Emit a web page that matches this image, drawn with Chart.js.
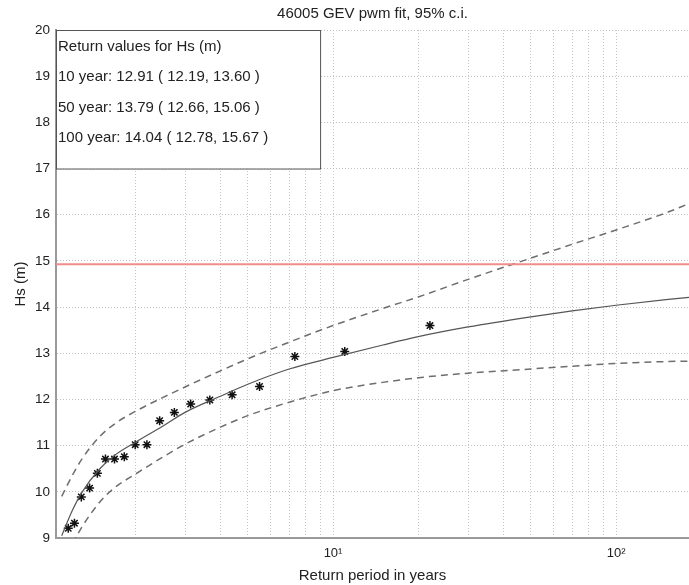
<!DOCTYPE html>
<html>
<head>
<meta charset="utf-8">
<script src="https://cdn.jsdelivr.net/npm/chart.js@4.4.1/dist/chart.umd.min.js"></script>
<style>
  body { margin: 0; background: #fff; overflow: hidden; }
  #wrap { width: 695px; height: 585px; position: relative; }
  canvas { display: block; }
</style>
</head>
<body>
<div id="wrap"><canvas id="gevChart"></canvas></div>
<script>
// return periods (years) used for the fitted curve and its confidence band
const periods = [1.1, 1.2, 1.3, 1.5, 1.7, 2, 2.5, 3, 4, 5, 7, 10, 15, 20, 30, 50, 70, 100, 150, 181];
const fitHs   = [9.05, 9.6, 10.0, 10.5, 10.8, 11.07, 11.42, 11.72, 12.07, 12.33, 12.66, 12.91, 13.18, 13.36, 13.57, 13.79, 13.92, 14.04, 14.16, 14.21];
const upperHs = [9.9, 10.36, 10.72, 11.2, 11.48, 11.74, 12.04, 12.27, 12.62, 12.88, 13.24, 13.6, 13.97, 14.22, 14.6, 15.06, 15.36, 15.67, 16.04, 16.24];
const lowerHs = [null, 8.88, 9.25, 9.78, 10.1, 10.38, 10.75, 11.03, 11.4, 11.65, 11.94, 12.19, 12.37, 12.47, 12.57, 12.66, 12.72, 12.78, 12.82, 12.83];

// observed annual maxima at their plotting positions
const obsPeriods = [22, 11, 7.33, 5.5, 4.4, 3.67, 3.14, 2.75, 2.44, 2.2, 2.0, 1.83, 1.69, 1.57, 1.47, 1.38, 1.29, 1.22, 1.16];
const obsHs      = [13.6, 13.04, 12.93, 12.28, 12.1, 11.99, 11.9, 11.72, 11.54, 11.02, 11.02, 10.76, 10.71, 10.71, 10.4, 10.08, 9.89, 9.32, 9.21];

const thresholdHs = 14.93;

const xGridValues = [2, 3, 4, 5, 6, 7, 8, 9, 10, 20, 30, 40, 50, 60, 70, 80, 90, 100];
const xTickLabels = { 10: '10\u00B9', 100: '10\u00B2' };
const xMin = 1.05, xMax = 181;

const chartTitle = '46005 GEV pwm fit, 95% c.i.';
const boxLines = [
  'Return values for Hs (m)',
  '10 year: 12.91 ( 12.19, 13.60 )',
  '50 year: 13.79 ( 12.66, 15.06 )',
  '100 year: 14.04 ( 12.78, 15.67 )'
];

const FONT = "'Liberation Sans', Arial, sans-serif";

const toPts = (xs, ys) => xs.map((x, i) => ({ x: x, y: ys[i] }));

// title centred over the plot area, not the canvas
const titlePlugin = {
  id: 'plotTitle',
  afterDraw(chart) {
    const { ctx, chartArea } = chart;
    ctx.save();
    ctx.font = '15px ' + FONT;
    ctx.fillStyle = '#222';
    ctx.textAlign = 'center';
    ctx.textBaseline = 'middle';
    ctx.fillText(chartTitle, (chartArea.left + chartArea.right) / 2, 14);
    ctx.restore();
  }
};

// white text box in the top-left corner, anchored to data coords
const boxPlugin = {
  id: 'returnBox',
  beforeDatasetsDraw(chart) {
    const { ctx, scales } = chart;
    const x0 = scales.x.left;
    const x1 = scales.x.getPixelForValue(9);
    const y0 = scales.y.getPixelForValue(20);
    const y1 = scales.y.getPixelForValue(17);
    ctx.save();
    ctx.fillStyle = '#fff';
    ctx.fillRect(x0, y0, x1 - x0, y1 - y0);
    ctx.strokeStyle = '#555';
    ctx.lineWidth = 1;
    ctx.strokeRect(x0 + 0.5, y0 + 0.5, x1 - x0, y1 - y0);
    ctx.font = '15px ' + FONT;
    ctx.fillStyle = '#222';
    ctx.textBaseline = 'middle';
    boxLines.forEach((t, i) => ctx.fillText(t, x0 + 2, y0 + 17 + i * 30.3));
    ctx.restore();
  }
};

const curve = {
  showLine: true,
  pointRadius: 0,
  cubicInterpolationMode: 'monotone'
};

new Chart(document.getElementById('gevChart'), {
  type: 'scatter',
  data: {
    datasets: [
      {
        label: 'threshold',
        data: [{ x: xMin, y: thresholdHs }, { x: xMax, y: thresholdHs }],
        showLine: true,
        borderColor: '#f08c8c',
        borderWidth: 2,
        pointRadius: 0
      },
      Object.assign({
        label: 'upper',
        data: toPts(periods, upperHs),
        borderColor: '#6e6e6e',
        borderWidth: 1.5,
        borderDash: [7, 5]
      }, curve),
      Object.assign({
        label: 'lower',
        data: toPts(periods, lowerHs),
        borderColor: '#6e6e6e',
        borderWidth: 1.5,
        borderDash: [7, 5]
      }, curve),
      Object.assign({
        label: 'fit',
        data: toPts(periods, fitHs),
        borderColor: '#555',
        borderWidth: 1.2
      }, curve),
      {
        label: 'observed',
        data: toPts(obsPeriods, obsHs),
        pointStyle: 'star',
        pointRadius: 4.5,
        borderColor: '#111',
        borderWidth: 1.5,
        backgroundColor: '#111'
      }
    ]
  },
  options: {
    responsive: true,
    maintainAspectRatio: false,
    animation: false,
    layout: { padding: { top: 30, right: 0, left: 0, bottom: 0 } },
    plugins: {
      legend: { display: false },
      tooltip: { enabled: false },
      title: { display: false }
    },
    scales: {
      x: {
        type: 'logarithmic',
        min: xMin,
        max: xMax,
        afterBuildTicks: (scale) => { scale.ticks = xGridValues.map(v => ({ value: v })); },
        afterFit: (scale) => {
          scale.height = 47;
          scale.paddingLeft = 0;
          scale.paddingRight = 0;
        },
        ticks: {
          autoSkip: false,
          maxRotation: 0,
          padding: 8,
          color: '#222',
          font: { family: FONT, size: 13 },
          callback: (v) => xTickLabels[v] || ''
        },
        grid: { color: '#c4c4c4', lineWidth: 1, drawTicks: false },
        border: { color: '#9a9a9a', width: 2, dash: [1, 2] },
        title: {
          display: true,
          text: 'Return period in years',
          color: '#222',
          font: { family: FONT, size: 15 },
          padding: { top: 0, bottom: 0 }
        }
      },
      y: {
        min: 9,
        max: 20,
        afterFit: (scale) => { scale.width = 56; },
        ticks: {
          stepSize: 1,
          padding: 6,
          color: '#222',
          font: { family: FONT, size: 13.5 }
        },
        grid: { color: '#c4c4c4', lineWidth: 1, drawTicks: false },
        border: { color: '#9a9a9a', width: 2, dash: [1, 2] },
        title: {
          display: true,
          text: 'Hs (m)',
          color: '#222',
          font: { family: FONT, size: 15 },
          padding: { top: 12, bottom: 0 }
        }
      }
    }
  },
  plugins: [titlePlugin, boxPlugin]
});
</script>
</body>
</html>
